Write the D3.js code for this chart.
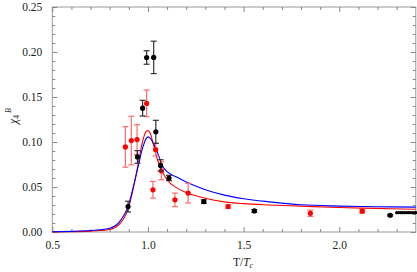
<!DOCTYPE html>
<html>
<head>
<meta charset="utf-8">
<script src="https://cdn.jsdelivr.net/npm/d3@7"></script>
<style>
body{margin:0;background:#fff;}
text{font-family:"Liberation Serif","DejaVu Serif",serif;}
</style>
</head>
<body>
<div id="chart"></div>
<script>
// lattice points (black): T/Tc, chi4, error
var blackT   = [0.896, 0.945, 0.972, 0.993, 1.030, 1.041, 1.066, 1.110, 1.292, 1.556, 2.266];
var blackVal = [0.0282, 0.0834, 0.1376, 0.1939, 0.1940, 0.1113, 0.0740, 0.0600, 0.0338, 0.0234, 0.0186];
var blackErr = [0.0060, 0.0070, 0.0087, 0.0075, 0.0180, 0.0128, 0.0063, 0.0030, 0.0020, 0.0015, 0.0008];
// dense high-T black points
var denseT   = [2.300, 2.310, 2.320, 2.330, 2.340, 2.350, 2.360, 2.370, 2.380, 2.390, 2.400];
var denseVal = [0.0215, 0.0215, 0.0215, 0.0215, 0.0215, 0.0215, 0.0215, 0.0215, 0.0215, 0.0215, 0.0215];
// red points
var redT   = [0.882, 0.913, 0.943, 0.993, 1.026, 1.040, 1.070, 1.141, 1.210, 1.419, 1.849, 2.120];
var redVal = [0.0945, 0.1016, 0.1027, 0.1429, 0.0469, 0.0915, 0.0680, 0.0357, 0.0432, 0.0283, 0.0208, 0.0231];
var redErr = [0.0225, 0.0270, 0.0165, 0.0148, 0.0093, 0.0070, 0.0100, 0.0075, 0.0110, 0.0020, 0.0035, 0.0020];
// model curves
var curveT    = [0.50, 0.60, 0.70, 0.75, 0.80, 0.85, 0.90, 0.93, 0.95, 0.97, 0.99, 1.00, 1.01, 1.03, 1.05, 1.08, 1.10, 1.15, 1.20, 1.30, 1.40, 1.50, 1.634, 1.80, 2.00, 2.20, 2.40];
var redCurve  = [0.0001, 0.0004, 0.0010, 0.0016, 0.0028, 0.0085, 0.0280, 0.0550, 0.0770, 0.0990, 0.1115, 0.1127, 0.1105, 0.0960, 0.0800, 0.0650, 0.0580, 0.0490, 0.0440, 0.0375, 0.0335, 0.0315, 0.0300, 0.0287, 0.0272, 0.0262, 0.0253];
var blueCurve = [0.0002, 0.0007, 0.0016, 0.0025, 0.0042, 0.0110, 0.0310, 0.0560, 0.0740, 0.0920, 0.1035, 0.1057, 0.1045, 0.0980, 0.0880, 0.0720, 0.0670, 0.0610, 0.0555, 0.0470, 0.0410, 0.0370, 0.0335, 0.0302, 0.0288, 0.0281, 0.0276];

var xMajor = [0.5, 1.0, 1.5, 2.0];
var yMajor = [0.00, 0.05, 0.10, 0.15, 0.20, 0.25];
var xMinor = [0.6,0.7,0.8,0.9,1.1,1.2,1.3,1.4,1.6,1.7,1.8,1.9,2.1,2.2,2.3];
var yMinor = [0.01,0.02,0.03,0.04,0.06,0.07,0.08,0.09,0.11,0.12,0.13,0.14,0.16,0.17,0.18,0.19,0.21,0.22,0.23,0.24];

function draw(){
    var w = 417, h = 272;
    var pLeft = 52.3, pRight = 415.8, pTop = 7, pBottom = 232;

    var svg = d3.select("#chart").append("svg")
        .attr("width", w).attr("height", h);

    var x = d3.scaleLinear().domain([0.5, 2.4]).range([pLeft, pRight]);
    var y = d3.scaleLinear().domain([0, 0.25]).range([pBottom, pTop]);

    // frame
    svg.append("rect")
        .attr("x", pLeft).attr("y", pTop)
        .attr("width", pRight - pLeft).attr("height", pBottom - pTop)
        .attr("fill", "none").attr("stroke", "#999").attr("stroke-width", 1);

    // ticks, inward on all sides
    function fmt(d){ return d3.format(".2f")(d); }
    svg.append("g").attr("transform", "translate(0," + pBottom + ")")
        .call(d3.axisBottom(x).tickValues(xMajor).tickSizeInner(-5).tickSizeOuter(0).tickPadding(9).tickFormat(d3.format(".1f")));
    svg.append("g").attr("transform", "translate(0," + pBottom + ")")
        .call(d3.axisBottom(x).tickValues(xMinor).tickSizeInner(-3).tickSizeOuter(0).tickFormat(""));
    svg.append("g").attr("transform", "translate(0," + pTop + ")")
        .call(d3.axisTop(x).tickValues(xMajor).tickSizeInner(-5).tickSizeOuter(0).tickFormat(""));
    svg.append("g").attr("transform", "translate(0," + pTop + ")")
        .call(d3.axisTop(x).tickValues(xMinor).tickSizeInner(-3).tickSizeOuter(0).tickFormat(""));
    svg.append("g").attr("transform", "translate(" + pLeft + ",0)")
        .call(d3.axisLeft(y).tickValues(yMajor).tickSizeInner(-5).tickSizeOuter(0).tickPadding(10).tickFormat(fmt));
    svg.append("g").attr("transform", "translate(" + pLeft + ",0)")
        .call(d3.axisLeft(y).tickValues(yMinor).tickSizeInner(-3).tickSizeOuter(0).tickFormat(""));
    svg.append("g").attr("transform", "translate(" + pRight + ",0)")
        .call(d3.axisRight(y).tickValues(yMajor).tickSizeInner(-5).tickSizeOuter(0).tickFormat(""));
    svg.append("g").attr("transform", "translate(" + pRight + ",0)")
        .call(d3.axisRight(y).tickValues(yMinor).tickSizeInner(-3).tickSizeOuter(0).tickFormat(""));

    svg.selectAll(".domain").remove();
    svg.selectAll(".tick line").attr("stroke", "#888");
    svg.selectAll(".tick text").attr("font-family", "Liberation Serif").attr("font-size", 11.5).attr("fill", "#222");

    // curves
    var line = d3.line().curve(d3.curveMonotoneX)
        .x(function(d){ return x(d[0]); })
        .y(function(d){ return y(d[1]); });
    var plot = svg.append("g");
    plot.append("path")
        .datum(d3.zip(curveT, redCurve))
        .attr("d", line).attr("fill", "none").attr("stroke", "#ff0000").attr("stroke-width", 1.1);
    plot.append("path")
        .datum(d3.zip(curveT, blueCurve))
        .attr("d", line).attr("fill", "none").attr("stroke", "#0000ff").attr("stroke-width", 1.1);

    // error bars + points
    function points(T, V, E, barColor, dotColor){
        var data = d3.zip(T, V, E);
        var g = plot.append("g");
        var eb = g.selectAll(".eb").data(data).enter().append("g")
            .attr("stroke", barColor).attr("stroke-width", 1.2);
        eb.append("line")
            .attr("x1", function(d){ return x(d[0]); }).attr("x2", function(d){ return x(d[0]); })
            .attr("y1", function(d){ return y(d[1] + d[2]); }).attr("y2", function(d){ return y(d[1] - d[2]); });
        eb.append("line")
            .attr("x1", function(d){ return x(d[0]) - 3; }).attr("x2", function(d){ return x(d[0]) + 3; })
            .attr("y1", function(d){ return y(d[1] + d[2]); }).attr("y2", function(d){ return y(d[1] + d[2]); });
        eb.append("line")
            .attr("x1", function(d){ return x(d[0]) - 3; }).attr("x2", function(d){ return x(d[0]) + 3; })
            .attr("y1", function(d){ return y(d[1] - d[2]); }).attr("y2", function(d){ return y(d[1] - d[2]); });
        g.selectAll("circle").data(data).enter().append("circle")
            .attr("cx", function(d){ return x(d[0]); })
            .attr("cy", function(d){ return y(d[1]); })
            .attr("r", 2.6).attr("fill", dotColor);
    }
    points(redT, redVal, redErr, "#ff6b6b", "#ff0000");
    points(blackT, blackVal, blackErr, "#333", "#000");

    plot.append("g").selectAll("circle").data(d3.zip(denseT, denseVal)).enter().append("circle")
        .attr("cx", function(d){ return x(d[0]); })
        .attr("cy", function(d){ return y(d[1]); })
        .attr("r", 1.6).attr("fill", "#000");

    // axis labels
    var xl = svg.append("text").attr("x", 243).attr("y", 266)
        .attr("text-anchor", "middle").attr("font-size", 11.5).attr("fill", "#222");
    xl.append("tspan").text("T/");
    xl.append("tspan").attr("font-style", "italic").text("T");
    xl.append("tspan").attr("font-style", "italic").attr("font-size", 8).attr("dy", 2).text("c");

    var yl = svg.append("text").attr("transform", "translate(17,116) rotate(-90)")
        .attr("text-anchor", "middle").attr("font-size", 11.5).attr("fill", "#222");
    yl.append("tspan").attr("font-style", "italic").text("χ");
    yl.append("tspan").attr("font-size", 8).attr("dy", 2).text("4");
    yl.append("tspan").attr("font-style", "italic").attr("font-size", 8).attr("dy", -8).attr("dx", 2).text("B");
}

draw();
</script>
</body>
</html>
